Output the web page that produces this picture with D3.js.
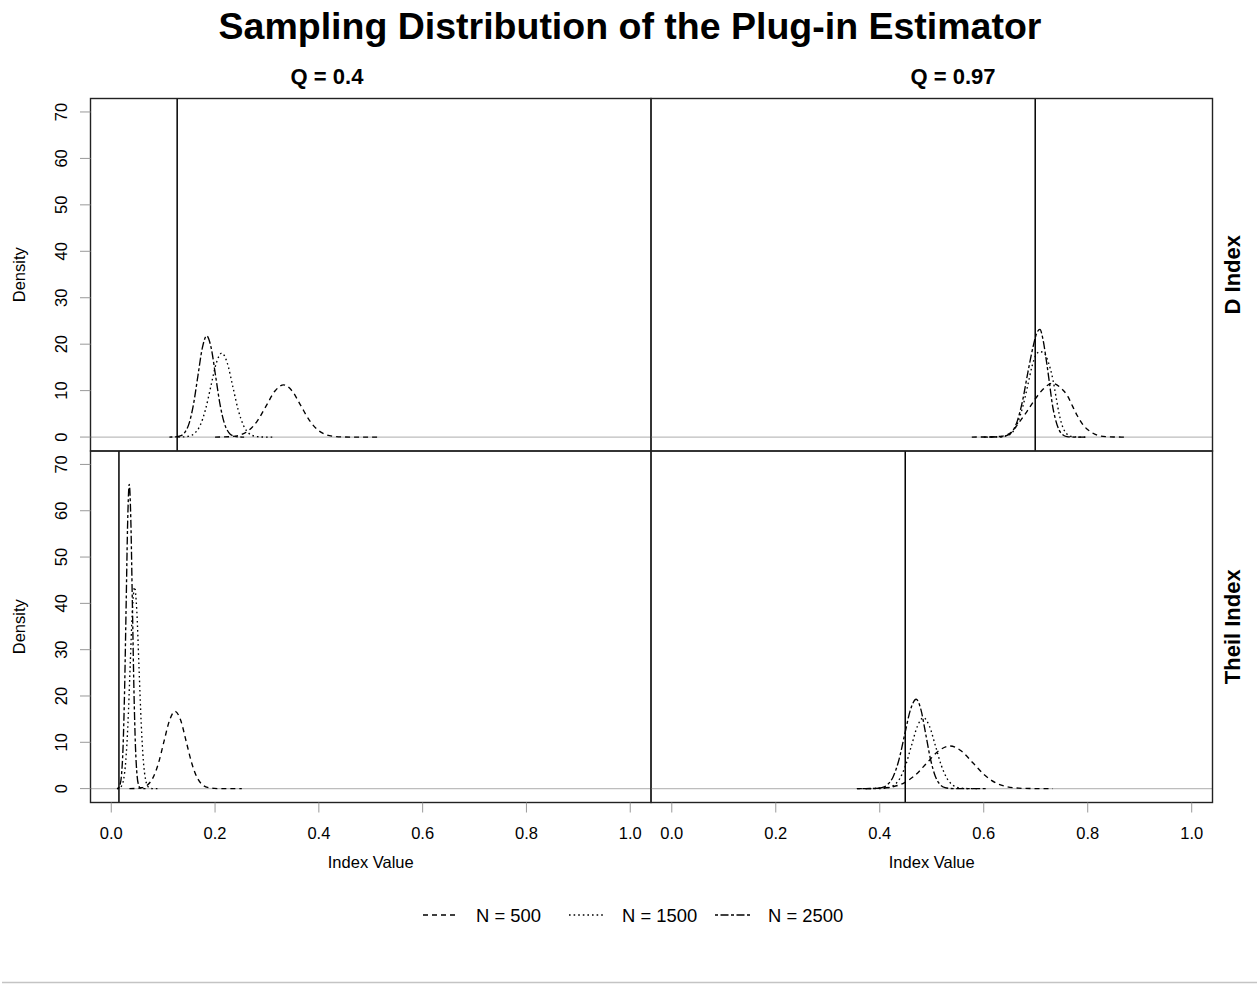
<!DOCTYPE html>
<html>
<head>
<meta charset="utf-8">
<script src="https://cdn.jsdelivr.net/npm/d3@7"></script>
<style>
  html, body { margin: 0; padding: 0; background: #fff; }
  svg { display: block; font-family: "Liberation Sans", Arial, Helvetica, sans-serif; }
</style>
</head>
<body>
<svg id="chart" width="1259" height="984"></svg>
<script>
// Panel layout: rows = index type, columns = Q
const rowLabels = ["D Index", "Theil Index"];
const colLabels = ["Q = 0.4", "Q = 0.97"];
const seriesLabels = ["N = 500", "N = 1500", "N = 2500"];
const xTicks = [0, 0.2, 0.4, 0.6, 0.8, 1.0];
const yTicks = [0, 10, 20, 30, 40, 50, 60, 70];

// Population value of each index (vertical reference line), by column
const trueD = [0.127, 0.699];
const trueTheil = [0.0148, 0.449];

// Estimated densities, [index value, density]
const dQ04_n500 = [[0.200,0],[0.2165,0.03],[0.233,0.13],[0.2495,0.49],[0.266,1.52],[0.2825,3.65],[0.299,6.82],[0.3155,9.93],[0.332,11.25],[0.3485,9.93],[0.365,6.82],[0.3815,3.65],[0.398,1.52],[0.4145,0.49],[0.431,0.13],[0.4475,0.03],[0.464,0.0],[0.518,0]];
const dQ04_n1500 = [[0.129,0],[0.1395,0.04],[0.150,0.20],[0.1605,0.79],[0.171,2.45],[0.1815,5.88],[0.192,10.98],[0.2025,15.97],[0.213,18.1],[0.2235,15.97],[0.234,10.98],[0.2445,5.88],[0.255,2.45],[0.2655,0.79],[0.276,0.20],[0.2865,0.04],[0.297,0.0],[0.316,0]];
const dQ04_n2500 = [[0.112,0],[0.1245,0.05],[0.133,0.24],[0.1415,0.96],[0.150,2.95],[0.1585,7.08],[0.167,13.2],[0.1755,19.2],[0.184,21.8],[0.1925,19.2],[0.201,13.2],[0.2095,7.08],[0.218,2.95],[0.2265,0.96],[0.235,0.24],[0.2435,0.05],[0.252,0.0],[0.256,0]];

const dQ97_n500 = [[0.577,0],[0.615,0.03],[0.635,0.2],[0.651,0.86],[0.667,3.0],[0.683,5.5],[0.699,8.2],[0.715,10.4],[0.732,11.6],[0.747,10.7],[0.762,8.7],[0.771,6.6],[0.780,4.6],[0.792,2.5],[0.806,1.1],[0.820,0.35],[0.835,0.08],[0.850,0.01],[0.877,0]];
const dQ97_n1500 = [[0.605,0],[0.630,0.04],[0.645,0.3],[0.655,1.0],[0.665,3.0],[0.675,6.5],[0.685,11.3],[0.693,15.3],[0.700,17.6],[0.708,18.4],[0.716,18.1],[0.724,16.2],[0.733,12.4],[0.739,8.7],[0.745,5.0],[0.750,2.8],[0.755,1.4],[0.762,0.45],[0.770,0.1],[0.785,0],[0.800,0]];
const dQ97_n2500 = [[0.600,0],[0.630,0.04],[0.645,0.35],[0.655,1.2],[0.665,3.6],[0.675,8.0],[0.685,14.0],[0.695,19.5],[0.702,22.4],[0.708,23.2],[0.714,21.0],[0.720,16.8],[0.726,12.0],[0.732,7.0],[0.738,3.8],[0.745,1.5],[0.752,0.5],[0.760,0.1],[0.775,0],[0.795,0]];

const tQ04_n500 = [[0.035,0],[0.0478,0.04],[0.0585,0.19],[0.0693,0.73],[0.080,2.26],[0.0908,5.42],[0.1015,10.13],[0.1123,14.74],[0.123,16.7],[0.1338,14.74],[0.1445,10.13],[0.1553,5.42],[0.166,2.26],[0.1768,0.73],[0.1875,0.19],[0.1983,0.04],[0.209,0.0],[0.2515,0]];
const tQ04_n1500 = [[0.011,0],[0.0152,0.1],[0.0194,0.48],[0.0237,1.91],[0.0279,5.89],[0.0322,14.1],[0.0364,26.4],[0.0407,38.4],[0.0449,43.5],[0.0492,38.4],[0.0534,26.4],[0.0577,14.1],[0.0619,5.89],[0.0662,1.91],[0.0704,0.48],[0.0747,0.1],[0.0789,0.0],[0.090,0]];
const tQ04_n2500 = [[0.011,0],[0.0137,0.14],[0.0167,0.73],[0.0197,2.88],[0.0227,8.89],[0.0257,21.3],[0.0287,39.8],[0.0317,58.0],[0.0347,65.7],[0.0377,58.0],[0.0407,39.8],[0.0437,21.3],[0.0467,8.89],[0.0497,2.88],[0.0527,0.73],[0.0557,0.14],[0.0587,0.0],[0.066,0]];

const tQ97_n500 = [[0.356,0],[0.381,0.02],[0.403,0.10],[0.425,0.40],[0.447,1.24],[0.469,2.99],[0.491,5.58],[0.513,8.12],[0.535,9.2],[0.557,8.12],[0.579,5.58],[0.601,2.99],[0.623,1.24],[0.645,0.40],[0.667,0.10],[0.689,0.02],[0.711,0.0],[0.733,0]];
const tQ97_n1500 = [[0.372,0],[0.4035,0.03],[0.415,0.17],[0.4265,0.67],[0.438,2.07],[0.4495,4.97],[0.461,9.28],[0.4725,13.5],[0.484,15.3],[0.4955,13.5],[0.507,9.28],[0.5185,4.97],[0.530,2.07],[0.5415,0.67],[0.553,0.17],[0.5645,0.03],[0.576,0.0],[0.590,0]];
const tQ97_n2500 = [[0.356,0],[0.382,0.01],[0.393,0.04],[0.404,0.21],[0.415,0.85],[0.426,2.61],[0.437,6.27],[0.448,11.7],[0.459,17.0],[0.470,19.3],[0.4793,17.0],[0.4885,11.7],[0.4978,6.27],[0.507,2.61],[0.5163,0.85],[0.5255,0.21],[0.5348,0.04],[0.544,0.0],[0.606,0]];

// ---- drawing ----
const svg = d3.select("#chart");
const dashes = ["5,4", "1.6,3", "3,2.5,8,2.5"];

const panels = [
  { row: 0, col: 0, ref: trueD[0],     curves: [dQ04_n500, dQ04_n1500, dQ04_n2500] },
  { row: 0, col: 1, ref: trueD[1],     curves: [dQ97_n500, dQ97_n1500, dQ97_n2500] },
  { row: 1, col: 0, ref: trueTheil[0], curves: [tQ04_n500, tQ04_n1500, tQ04_n2500] },
  { row: 1, col: 1, ref: trueTheil[1], curves: [tQ97_n500, tQ97_n1500, tQ97_n2500] }
];

const colX = [[90.5, 651], [651, 1212.5]];
const rowY = [[98.5, 451], [451, 802.5]];
const xDomain = [-0.04, 1.04];
const yDomain = [-3.0, 72.9];

svg.append("rect").attr("width", 1259).attr("height", 984).attr("fill", "#fff");

// Title
svg.append("text")
  .attr("x", 630).attr("y", 39)
  .attr("text-anchor", "middle")
  .attr("font-size", 37.5).attr("font-weight", "bold")
  .attr("fill", "#000")
  .text("Sampling Distribution of the Plug-in Estimator");

const xScales = colX.map(r => d3.scaleLinear().domain(xDomain).range(r));
const yScales = rowY.map(r => d3.scaleLinear().domain(yDomain).range([r[1], r[0]]));

panels.forEach(p => {
  const x = xScales[p.col], y = yScales[p.row];
  const g = svg.append("g");
  const [x0, x1] = colX[p.col];
  const [y0, y1] = rowY[p.row];

  const clipId = `clip-${p.row}-${p.col}`;
  svg.append("clipPath").attr("id", clipId)
    .append("rect").attr("x", x0).attr("y", y0).attr("width", x1 - x0).attr("height", y1 - y0);

  const inner = g.append("g").attr("clip-path", `url(#${clipId})`);

  // zero baseline
  inner.append("line")
    .attr("x1", x0).attr("x2", x1)
    .attr("y1", y(0)).attr("y2", y(0))
    .attr("stroke", "#bdbdbd").attr("stroke-width", 1.2);

  const line = d3.line().x(d => x(d[0])).y(d => y(d[1])).curve(d3.curveMonotoneX);
  p.curves.forEach((c, i) => {
    inner.append("path")
      .attr("d", line(c))
      .attr("fill", "none")
      .attr("stroke", "#000")
      .attr("stroke-width", 1.35)
      .attr("stroke-dasharray", dashes[i]);
  });

  // reference value
  inner.append("line")
    .attr("x1", x(p.ref)).attr("x2", x(p.ref))
    .attr("y1", y0).attr("y2", y1)
    .attr("stroke", "#000").attr("stroke-width", 1.5);

  // panel frame
  g.append("rect")
    .attr("x", x0).attr("y", y0).attr("width", x1 - x0).attr("height", y1 - y0)
    .attr("fill", "none").attr("stroke", "#222").attr("stroke-width", 1.4);
});

// Left density axes
rowY.forEach((r, ri) => {
  const y = yScales[ri];
  const g = svg.append("g");
  yTicks.forEach(t => {
    g.append("line")
      .attr("x1", 80).attr("x2", colX[0][0])
      .attr("y1", y(t)).attr("y2", y(t))
      .attr("stroke", "#999").attr("stroke-width", 1);
    g.append("text")
      .attr("transform", `translate(67,${y(t)}) rotate(-90)`)
      .attr("text-anchor", "middle")
      .attr("font-size", 16.5).attr("fill", "#000")
      .text(t);
  });
  g.append("text")
    .attr("transform", `translate(25,${(r[0] + r[1]) / 2}) rotate(-90)`)
    .attr("text-anchor", "middle")
    .attr("font-size", 16.5).attr("fill", "#000")
    .text("Density");
  // row strip
  g.append("text")
    .attr("transform", `translate(1240,${(r[0] + r[1]) / 2}) rotate(-90)`)
    .attr("text-anchor", "middle")
    .attr("font-size", 22).attr("font-weight", "bold").attr("fill", "#000")
    .text(rowLabels[ri]);
});

// Bottom index-value axes
const fmt = d3.format(".1f");
colX.forEach((c, ci) => {
  const x = xScales[ci];
  const g = svg.append("g");
  const yb = rowY[1][1];
  xTicks.forEach(t => {
    g.append("line")
      .attr("x1", x(t)).attr("x2", x(t))
      .attr("y1", yb).attr("y2", yb + 10)
      .attr("stroke", "#999").attr("stroke-width", 1);
    g.append("text")
      .attr("x", x(t)).attr("y", 839)
      .attr("text-anchor", "middle")
      .attr("font-size", 16.5).attr("fill", "#000")
      .text(fmt(t));
  });
  g.append("text")
    .attr("x", (c[0] + c[1]) / 2).attr("y", 868)
    .attr("text-anchor", "middle")
    .attr("font-size", 16.5).attr("fill", "#000")
    .text("Index Value");
});

// Column strips
const colLabelX = [327, 953];
colLabels.forEach((lab, ci) => {
  svg.append("text")
    .attr("x", colLabelX[ci]).attr("y", 84)
    .attr("text-anchor", "middle")
    .attr("font-size", 22).attr("font-weight", "bold").attr("fill", "#000")
    .text(lab);
});

// Legend
const legendLineX = [423, 569, 715];
const legendY = 915;
seriesLabels.forEach((lab, i) => {
  svg.append("line")
    .attr("x1", legendLineX[i]).attr("x2", legendLineX[i] + 35)
    .attr("y1", legendY).attr("y2", legendY)
    .attr("stroke", "#000").attr("stroke-width", 1.35)
    .attr("stroke-dasharray", dashes[i]);
  svg.append("text")
    .attr("x", legendLineX[i] + 53).attr("y", legendY + 7)
    .attr("font-size", 18.4).attr("fill", "#000")
    .text(lab);
});

// Bottom rule
svg.append("line")
  .attr("x1", 2).attr("x2", 1257)
  .attr("y1", 982.5).attr("y2", 982.5)
  .attr("stroke", "#c4c4c4").attr("stroke-width", 1.5);
</script>
</body>
</html>
